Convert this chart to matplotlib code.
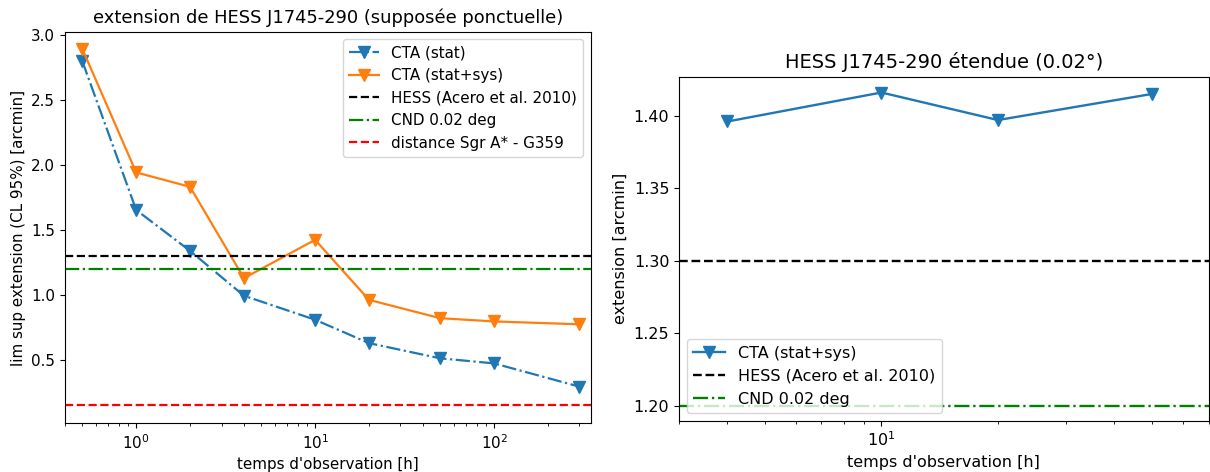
import numpy as np
import matplotlib
matplotlib.use("Agg")
import matplotlib.pyplot as plt

# temps d'observation [h]
t_gauche = [0.5, 1, 2, 4, 10, 20, 50, 100, 300]
ext_stat = [2.80, 1.655, 1.34, 0.995, 0.81, 0.63, 0.513, 0.474, 0.295]
ext_statsys = [2.895, 1.944, 1.833, 1.13, 1.425, 0.963, 0.822, 0.797, 0.775]

t_droite = [4, 10, 20, 50]
ext_etendue = [1.396, 1.416, 1.397, 1.415]

hess = 1.3
cnd = 1.2
dist_sgr = 0.15

fig = plt.figure(figsize=(12.1, 4.72), dpi=100)

# --- graphe de gauche
fs1 = 10.9
lw = 1.6
ax1 = fig.add_axes([0.0537, 0.1032, 0.4347, 0.8296])
ax1.plot(t_gauche, ext_stat, 'v-.', color='C0', ms=8, lw=lw, label='CTA (stat)')
ax1.plot(t_gauche, ext_statsys, 'v-', color='C1', ms=8, lw=lw, label='CTA (stat+sys)')
ax1.axhline(hess, color='k', ls='--', lw=lw, label='HESS (Acero et al. 2010)')
ax1.axhline(cnd, color='g', ls='-.', lw=lw, label='CND 0.02 deg')
ax1.axhline(dist_sgr, color='r', ls='--', lw=lw, label='distance Sgr A* - G359')
ax1.set_xscale('log')
ax1.set_xlim(0.4, 348)
ax1.set_ylim(0.013, 3.027)
ax1.tick_params(labelsize=fs1)
ax1.set_xlabel("temps d'observation [h]", fontsize=fs1)
ax1.set_ylabel('lim sup extension (CL 95%) [arcmin]', fontsize=fs1)
ax1.set_title('extension de HESS J1745-290 (supposée ponctuelle)', fontsize=12.9)
ax1.legend(loc='upper right', fontsize=fs1)

# --- graphe de droite
fs2 = 11.5
ax2 = fig.add_axes([0.5612, 0.108, 0.4376, 0.7295])
ax2.plot(t_droite, ext_etendue, 'v-', color='C0', ms=8.5, lw=1.7, label='CTA (stat+sys)')
ax2.axhline(hess, color='k', ls='--', lw=1.7, label='HESS (Acero et al. 2010)')
ax2.axhline(cnd, color='g', ls='-.', lw=1.7, label='CND 0.02 deg')
ax2.set_xscale('log')
ax2.set_xlim(3, 70)
ax2.set_ylim(1.1894, 1.4269)
ax2.set_yticks([1.20, 1.25, 1.30, 1.35, 1.40])
ax2.tick_params(labelsize=fs2)
ax2.set_xlabel("temps d'observation [h]", fontsize=fs2)
ax2.set_ylabel('extension [arcmin]', fontsize=fs2)
ax2.set_title('HESS J1745-290 étendue (0.02°)', fontsize=14)
ax2.legend(loc='lower left', fontsize=fs2)

fig.savefig('out.png', dpi=100)
